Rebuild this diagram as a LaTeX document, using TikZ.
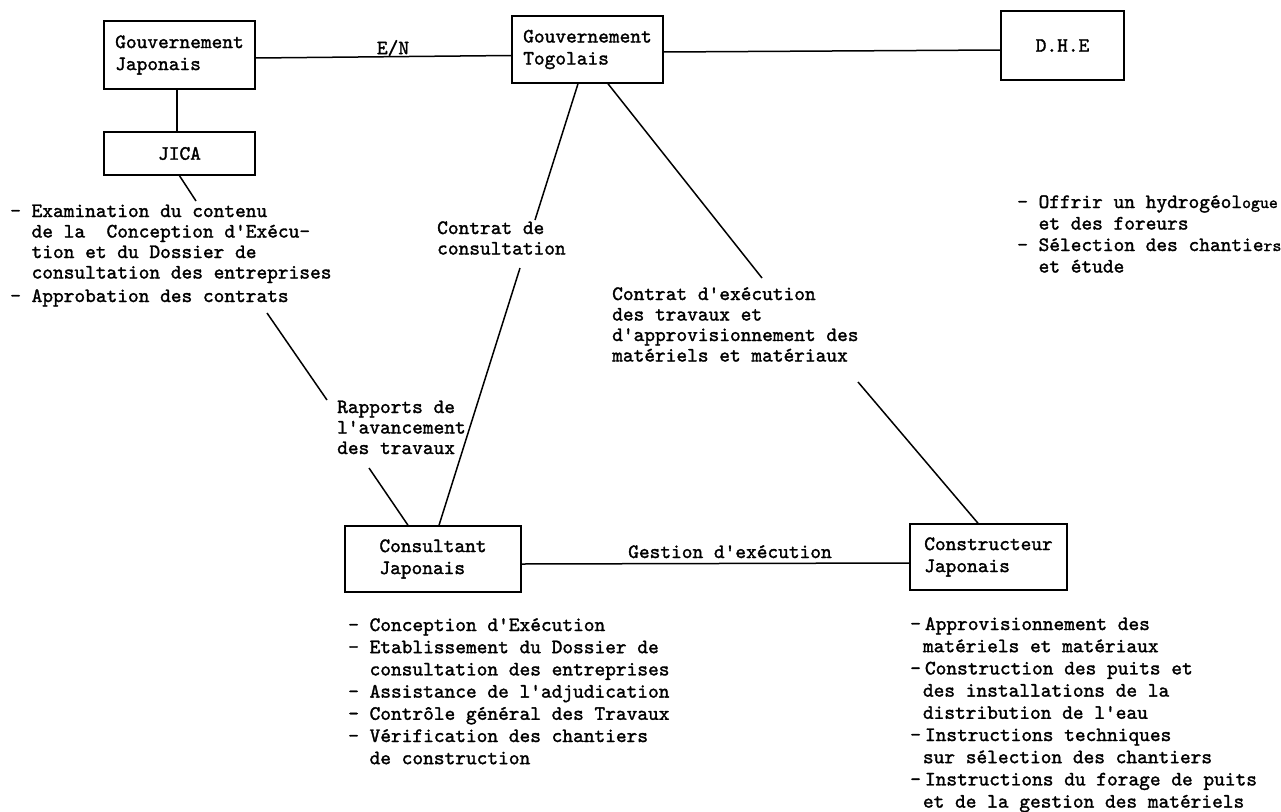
\documentclass[tikz,border=0pt]{standalone}
\usepackage{fontspec}
\usepackage{tikz}
\usetikzlibrary{calc}
\newfontfamily\typew{lmmono10-regular.otf}[FakeBold=1.5]

\newcommand{\twosp}{\hspace*{1.05em}}
\newcommand{\onesp}{\hspace*{0.625em}}
\newcommand{\block}[1]{\begin{tabular}[t]{@{}l@{}}#1\end{tabular}}
\newcommand{\smallch}[1]{{\fontsize{17}{17}\selectfont #1}}

\tikzset{
  box/.style={draw, line width=1.5pt, inner sep=0pt, align=left,
    font=\typew\fontsize{20.4}{22}\selectfont},
  lbl/.style={inner sep=0pt, font=\typew\fontsize{20.4}{22}\selectfont},
  note/.style={anchor=base west, inner sep=0pt,
    font=\typew\fontsize{20.4}{20.5}\selectfont},
  lownote/.style={note, font=\typew\fontsize{20.4}{22.2}\selectfont},
  link/.style={line width=1.5pt},
}

\begin{document}
\begin{tikzpicture}[x=1pt, y=-1pt]
    \useasboundingbox (0,0) rectangle (1281,811);

    % organisations
    \node[box, minimum width=151pt, minimum height=68pt] (gj) at (179.5,55) {Gouvernement\\Japonais};
    \node[box, minimum width=151pt, minimum height=43pt] (jica) at (179.5,153.5) {JICA};
    \node[box, minimum width=151pt, minimum height=67pt] (tg) at (587.5,49.5) {Gouvernement\\Togolais};
    \node[box, minimum width=123pt, minimum height=69pt] (dhe) at (1062.5,45.5) {D.H.E};
    \node[box, minimum width=176pt, minimum height=66pt] (cons) at (433,559) {Consultant\\Japonais};
    \node[box, minimum width=157pt, minimum height=66pt] (ctr) at (988.5,557) {Constructeur\\Japonais};

    % links between boxes
    \draw[link] ([yshift=-3pt]gj.east) -- ([yshift=-6pt]tg.west);
    \draw[link] ([yshift=-2.5pt]tg.east) -- ([yshift=-4.5pt]dhe.west);
    \draw[link] ([xshift=-2.5pt]gj.south) -- ([xshift=-2.5pt]jica.north);
    \draw[link] ([yshift=-5pt]cons.east) -- ([yshift=-6pt]ctr.west);
    \node[lbl] (en) at (393,48) {E/N};
    \node[lbl, anchor=base] (gest) at (730,558) {Gestion d'exécution};

    % texts
    \node[note] (njica) at (10,217) {\block{- Examination du contenu\\
      \twosp de la\ \ Conception d'Exécu-\\
      \twosp tion et du Dossier de\\
      \twosp consultation des entreprises\\[3pt]
      - Approbation des contrats}};
    \node[note] (ncc) at (437,234) {\block{Contrat de\\consultation}};
    \node[note] (nce) at (612,300) {\block{Contrat d'exécution\\des travaux et\\
      d'approvisionnement des\\matériels et matériaux}};
    \node[note] (nrap) at (337,413) {\block{Rapports de\\l'avancement\\des travaux}};
    \node[note, font=\typew\fontsize{20.4}{21.5}\selectfont] (ndhe) at (1017,208)
      {\block{- Offrir un hydrogéol\smallch{ogue}\\
      \twosp et des foreurs\\
      - Sélection des chantie\smallch{rs}\\
      \twosp et étude}};
    \node[lownote] (ncons) at (348,631) {\block{- Conception d'Exécution\\
      - Etablissement du Dossier de\\
      \twosp consultation des entreprises\\
      - Assistance de l'adjudication\\
      - Contrôle général des Travaux\\
      - Vérification des chantiers\\
      \twosp de construction}};
    \node[lownote] (nctr) at (910,630) {\block{-\hspace{0.2em}Approvisionnement des\\
      \onesp matériels et matériaux\\
      -\hspace{0.2em}Construction des puits et\\
      \onesp des installations de la\\
      \onesp distribution de l'eau\\
      -\hspace{0.2em}Instructions techniques\\
      \onesp sur sélection des chantiers\\
      -\hspace{0.2em}Instructions du forage de puits\\
      \onesp et de la gestion des matériels}};

    % leaders to the texts
    \coordinate (jn) at (196,201);
    \coordinate (ra1) at (267,313);
    \coordinate (ra2) at (327,400);
    \coordinate (ra3) at (369,468);
    \coordinate (cc1) at (535,220);
    \coordinate (cc2) at (520,268);
    \coordinate (ce1) at (762,278);
    \coordinate (ce2) at (858,382);
    \draw[link] (jica.south) -- (jn);
    \draw[link] (ra1) -- (ra2);
    \draw[link] (ra3) -- ([xshift=-25pt]cons.north);
    \draw[link] ([xshift=-9.5pt]tg.south) -- (cc1);
    \draw[link] (cc2) -- ([xshift=6pt]cons.north);
    \draw[link] ([xshift=20.5pt]tg.south) -- (ce1);
    \draw[link] (ce2) -- ([xshift=-10.5pt]ctr.north);
\end{tikzpicture}
\end{document}
